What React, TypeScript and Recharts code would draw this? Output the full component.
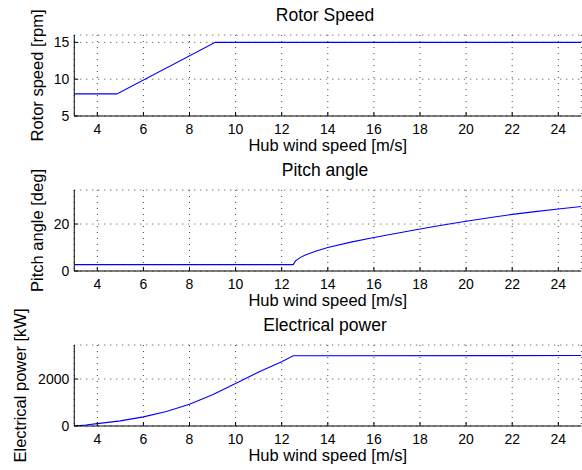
import React from 'react';
import { LineChart, Line, XAxis, YAxis, CartesianGrid, Customized } from 'recharts';

// ---- data ----
const windTicks = [4, 6, 8, 10, 12, 14, 16, 18, 20, 22, 24];

const rotorWind = [3, 4.85, 9.12, 25];
const rotorSpeed = [8, 8, 15, 15];
const rotorTicks = [5, 10, 15];

const pitchWind = [3, 12.5, 12.6, 12.8, 13, 13.5, 14, 15, 16, 17, 18, 19, 20, 21, 22, 23, 24, 25];
const pitchAngle = [2.7, 2.7, 4.3, 5.7, 6.7, 8.5, 10.0, 12.3, 14.3, 16.1, 17.9, 19.6, 21.2, 22.7, 24.1, 25.3, 26.4, 27.5];
const pitchTicks = [0, 20];

const powerWind = [3, 3.5, 4, 5, 6, 7, 8, 9, 10, 11, 12, 12.5, 25];
const powerKW = [0, 40, 100, 220, 390, 620, 930, 1330, 1810, 2300, 2740, 2990, 3000];
const powerTicks = [0, 2000];

const FONT = '"Liberation Sans", Arial, Helvetica, sans-serif';

const zip = (xs: number[], ys: number[]) => xs.map((x, i) => ({ x, y: ys[i] }));

type PanelProps = {
  plotTop: number;
  title: string;
  ylabel: string;
  ylabelX: number;
  data: { x: number; y: number }[];
  yDomain: [number, number];
  yTicks: number[];
};

const W = 582;
const M_TOP = 50;
const PLOT_LEFT = 74.25;
const PLOT_RIGHT = 581.35;
const PLOT_H = 81;
const X_AXIS_H = 39;
const H = M_TOP + PLOT_H + X_AXIS_H;

function Panel({ plotTop, title, ylabel, ylabelX, data, yDomain, yTicks }: PanelProps) {
  const cy = M_TOP + PLOT_H / 2;
  return (
    <div style={{ position: 'absolute', left: 0, top: plotTop - M_TOP, width: W, height: H }}>
      <LineChart
        width={W}
        height={H}
        data={data}
        margin={{ top: M_TOP, right: W - PLOT_RIGHT, bottom: 0, left: 0 }}
      >
        <CartesianGrid stroke="#444" strokeDasharray="1 5" strokeWidth={1} />
        <XAxis
          dataKey="x"
          type="number"
          domain={[3, 25]}
          ticks={windTicks}
          interval={0}
          height={X_AXIS_H}
          tickSize={-4}
          tickMargin={12.5}
          axisLine={{ stroke: '#000', strokeWidth: 1 }}
          tickLine={{ stroke: '#000' }}
          tick={{ fill: '#000', fontSize: 14, fontFamily: FONT }}
          allowDataOverflow
          label={{ value: 'Hub wind speed [m/s]', position: 'insideBottom', offset: 4, fill: '#000', fontSize: 16.5, fontFamily: FONT }}
        />
        <XAxis
          xAxisId="top"
          orientation="top"
          type="number"
          domain={[3, 25]}
          ticks={windTicks}
          interval={0}
          height={0}
          tickSize={-4}
          tick={false}
          axisLine={{ stroke: '#000', strokeWidth: 1 }}
          tickLine={{ stroke: '#000' }}
          allowDataOverflow
        />
        <YAxis
          type="number"
          domain={yDomain}
          ticks={yTicks}
          interval={0}
          width={PLOT_LEFT}
          tickSize={-4}
          tickMargin={9}
          axisLine={{ stroke: '#000', strokeWidth: 1 }}
          tickLine={{ stroke: '#000' }}
          tick={{ fill: '#000', fontSize: 14, fontFamily: FONT }}
          allowDataOverflow
        />
        <YAxis
          yAxisId="right"
          orientation="right"
          type="number"
          domain={yDomain}
          ticks={yTicks}
          interval={0}
          width={0}
          tickSize={-4}
          tick={false}
          axisLine={{ stroke: '#000', strokeWidth: 1 }}
          tickLine={{ stroke: '#000' }}
          allowDataOverflow
        />
        <Line
          type="linear"
          dataKey="y"
          stroke="#0000ff"
          strokeWidth={1.1}
          dot={false}
          activeDot={false}
          isAnimationActive={false}
        />
        <Customized
          component={() => (
            <g fontFamily={FONT} fill="#000">
              <text x={325} y={M_TOP - 14} textAnchor="middle" fontSize={17.5}>
                {title}
              </text>
              <text
                transform={`translate(${ylabelX},${cy}) rotate(-90)`}
                textAnchor="middle"
                fontSize={16.5}
              >
                {ylabel}
              </text>
            </g>
          )}
        />
      </LineChart>
    </div>
  );
}

export default function App() {
  return (
    <div style={{ position: 'absolute', left: 0, top: 0, width: W, height: 470, background: '#fff', overflow: 'hidden' }}>
      <Panel
        plotTop={35}
        title="Rotor Speed"
        ylabel="Rotor speed [rpm]"
        ylabelX={43}
        data={zip(rotorWind, rotorSpeed)}
        yDomain={[5, 16]}
        yTicks={rotorTicks}
      />
      <Panel
        plotTop={190}
        title="Pitch angle"
        ylabel="Pitch angle [deg]"
        ylabelX={43}
        data={zip(pitchWind, pitchAngle)}
        yDomain={[0, 34.5]}
        yTicks={pitchTicks}
      />
      <Panel
        plotTop={345}
        title="Electrical power"
        ylabel="Electrical power [kW]"
        ylabelX={26}
        data={zip(powerWind, powerKW)}
        yDomain={[0, 3450]}
        yTicks={powerTicks}
      />
    </div>
  );
}
